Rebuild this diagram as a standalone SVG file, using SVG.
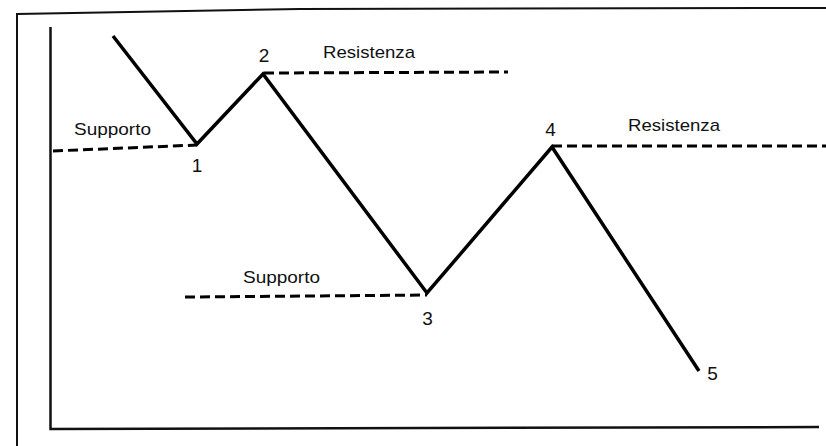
<svg xmlns="http://www.w3.org/2000/svg" width="826" height="446" viewBox="0 0 826 446">
<style>
.frame{fill:none;stroke:#111;stroke-width:2}
.axis{fill:none;stroke:#111;stroke-width:2.5}
.price{fill:none;stroke:#000;stroke-width:3.5;stroke-linejoin:miter;stroke-linecap:butt}
.dash{fill:none;stroke:#000;stroke-width:3;stroke-dasharray:10,5}
.lbl{font-family:"Liberation Sans",Arial,sans-serif;font-size:17px;fill:#111}
.num{font-family:"Liberation Sans",Arial,sans-serif;font-size:19px;fill:#111}
</style>
<rect width="826" height="446" fill="#fff"/>
<g id="frame">
<polyline class="frame" points="17,446 17,14 300,9 826,8"/>
<polyline class="axis" points="50.5,27 50.5,429 819,427"/>
</g>
<g id="connectors">
<polyline class="price" points="113,36 197,144 263,74 427,293 552,147 699,371"/>
<line class="dash" x1="53" y1="151" x2="197" y2="145"/>
<line class="dash" x1="264" y1="73" x2="508" y2="72"/>
<line class="dash" x1="185" y1="297" x2="427" y2="295"/>
<line class="dash" x1="552" y1="146" x2="826" y2="146"/>
</g>
<g id="labels">
<text class="lbl" x="74" y="135" textLength="77" lengthAdjust="spacingAndGlyphs">Supporto</text>
<text class="lbl" x="323" y="58" textLength="92" lengthAdjust="spacingAndGlyphs">Resistenza</text>
<text class="lbl" x="628" y="131" textLength="92" lengthAdjust="spacingAndGlyphs">Resistenza</text>
<text class="lbl" x="243" y="283" textLength="77" lengthAdjust="spacingAndGlyphs">Supporto</text>
</g>
<g id="points">
<text class="num" x="197" y="172" text-anchor="middle">1</text>
<text class="num" x="264" y="62" text-anchor="middle">2</text>
<text class="num" x="427.5" y="325" text-anchor="middle">3</text>
<text class="num" x="550.5" y="136" text-anchor="middle">4</text>
<text class="num" x="712.5" y="380" text-anchor="middle">5</text>
</g>
</svg>
